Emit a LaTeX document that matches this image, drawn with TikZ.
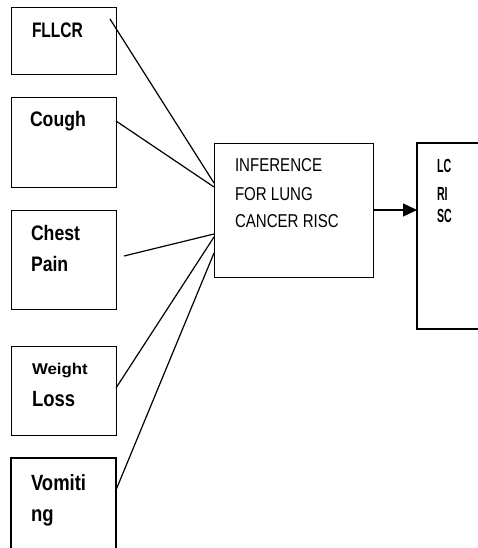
\documentclass[tikz,border=0pt]{standalone}
\usepackage{fontspec}
\setmainfont{Liberation Sans}
\newfontfamily\regf[FakeStretch=0.81]{Liberation Sans}
\newfontfamily\bldf[FakeStretch=0.84]{Liberation Sans}
\newfontfamily\bldnarrow[FakeStretch=0.74]{Liberation Sans}
\newfontfamily\bldwide[FakeStretch=1.08]{Liberation Sans}
\newfontfamily\bldlc[FakeStretch=0.56]{Liberation Sans}
\usetikzlibrary{arrows.meta}
\begin{document}
\begin{tikzpicture}[x=1pt,y=-1pt,
  box/.style={draw, line width=1.4pt, inner sep=0pt, anchor=north west},
  openbox/.style={line width=1.4pt},
  lbl/.style={anchor=base west, inner sep=0pt, outer sep=0pt},
  conn/.style={line width=1.2pt},
  bigb/.style={font=\bldf\bfseries\fontsize{21}{21}\selectfont},
  bigc/.style={font=\bldf\bfseries\fontsize{22}{22}\selectfont},
  regt/.style={font=\regf\fontsize{18.6}{18.6}\selectfont},
  lct/.style={font=\bldlc\bfseries\fontsize{19}{19}\selectfont}]
\useasboundingbox (0,0) rectangle (477,548);
\fill[white] (0,0) rectangle (477,548);

% input boxes
\node[box, minimum width=105pt, minimum height=67pt] (fllcr) at (11,7) {};
\node[box, minimum width=105pt, minimum height=90pt] (cough) at (11,97) {};
\node[box, minimum width=105pt, minimum height=99pt] (chest) at (11,210) {};
\node[box, minimum width=105pt, minimum height=89pt] (weight) at (11,346) {};
% vomiting box (cut off at bottom)
\coordinate (vbl) at (11,550);
\coordinate (vtl) at (11,458);
\coordinate (vtr) at (116,458);
\coordinate (vbr) at (116,550);
\draw[openbox] (vbl) -- (vtl) -- (vtr) -- (vbr);

% inference box
\node[box, minimum width=159pt, minimum height=134pt] (inf) at (214,143) {};
% result box (cut off at right)
\coordinate (rtr) at (479,143);
\coordinate (rtl) at (417,143);
\coordinate (rbl) at (417,329);
\coordinate (rbr) at (479,329);
\draw[openbox] (rtr) -- (rtl) -- (rbl) -- (rbr);

% labels
\node[lbl, font=\bldnarrow\bfseries\fontsize{21}{21}\selectfont] (t1) at (32,37.3) {FLLCR};
\node[lbl, bigb] (t2) at (30,126.7) {Cough};
\node[lbl, bigb] (t3a) at (31,240.7) {Chest};
\node[lbl, bigb] (t3b) at (31,271.7) {Pain};
\node[lbl, font=\bldwide\bfseries\fontsize{15.6}{15.6}\selectfont] (t4a) at (32,374.3) {Weight};
\node[lbl, bigc] (t4b) at (32,406.7) {Loss};
\node[lbl, bigc] (t5a) at (31,490) {Vomiti};
\node[lbl, bigc] (t5b) at (31,521.7) {ng};

\node[lbl, regt] (i1) at (235,171.7) {INFERENCE};
\node[lbl, regt] (i2) at (235,200) {FOR LUNG};
\node[lbl, regt] (i3) at (235,227.3) {CANCER RISC};

\node[lbl, lct] (r1) at (437,172) {LC};
\node[lbl, lct] (r2) at (437,200) {RI};
\node[lbl, lct] (r3) at (437,222) {SC};

% connector end points
\coordinate (c1s) at (110,19);
\coordinate (c1e) at (214,183);
\coordinate (c2s) at (116,121);
\coordinate (c2e) at (214,187);
\coordinate (c3s) at (124,256);
\coordinate (c3e) at (214,234);
\coordinate (c4s) at (116,388);
\coordinate (c4e) at (214,237);
\coordinate (c5s) at (116,490);
\coordinate (c5e) at (214,253);
\coordinate (as) at (373,210);
\coordinate (ae) at (417,210);

\draw[conn] (c1s) -- (c1e);
\draw[conn] (c2s) -- (c2e);
\draw[conn] (c3s) -- (c3e);
\draw[conn] (c4s) -- (c4e);
\draw[conn] (c5s) -- (c5e);
\draw[conn, -{Triangle[length=14pt,width=13pt]}] (as) -- (ae);
\end{tikzpicture}
\end{document}
